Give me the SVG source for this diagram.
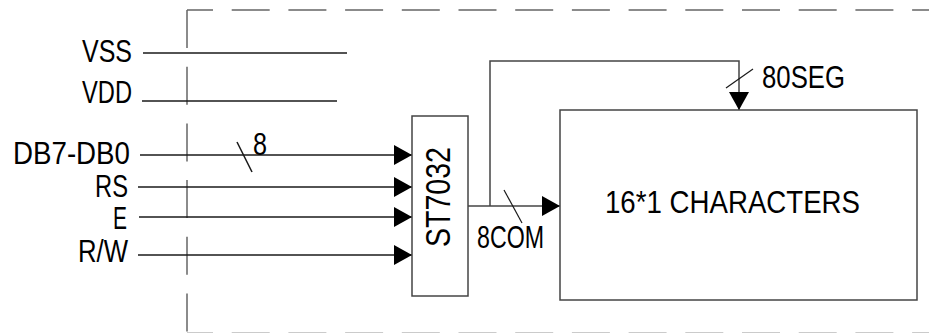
<svg xmlns="http://www.w3.org/2000/svg" width="929" height="333" viewBox="0 0 929 333">
<style>
.t{font-family:"Liberation Sans","DejaVu Sans",Arial,sans-serif;font-size:31px;fill:#000}
.ln{stroke:#1a1a1a;stroke-width:1.5;fill:none}
.box{stroke:#444;stroke-width:1.5;fill:#fff}
.dash{stroke:#666;stroke-width:1.5;fill:none;stroke-dasharray:38 18.7}
</style>
<defs>
<marker id="arr" markerUnits="userSpaceOnUse" markerWidth="18" markerHeight="20" refX="18" refY="10" orient="auto">
<path d="M0,0 L18,10 L0,20 z" fill="#000"/>
</marker>
</defs>
<rect width="929" height="333" fill="#fff"/>
<g id="border">
<line class="dash" x1="187" y1="10" x2="187" y2="340"/>
<line class="dash" x1="187" y1="10" x2="929" y2="10" style="stroke-dashoffset:12"/>
<line class="dash" x1="187" y1="333" x2="929" y2="333" style="stroke-dashoffset:12;stroke:#bbb"/>
</g>
<g id="connectors">
<line class="ln" x1="143" y1="53" x2="347" y2="53"/>
<line class="ln" x1="142" y1="101" x2="337" y2="101"/>
<line class="ln" x1="140" y1="155" x2="412" y2="155" marker-end="url(#arr)"/>
<line class="ln" x1="138" y1="187" x2="412" y2="187" marker-end="url(#arr)"/>
<line class="ln" x1="139" y1="217" x2="412" y2="217" marker-end="url(#arr)"/>
<line class="ln" x1="138" y1="255" x2="412" y2="255" marker-end="url(#arr)"/>
<line class="ln" x1="237" y1="142" x2="252" y2="172"/>
<line class="ln" x1="468" y1="206" x2="560" y2="206" marker-end="url(#arr)" style="stroke:#444"/>
<path class="ln" d="M490,206 V61 H739 V110" marker-end="url(#arr)" style="stroke:#444"/>
<line class="ln" x1="504" y1="190" x2="522" y2="223" style="stroke-width:1.2"/>
<line class="ln" x1="726" y1="88" x2="753" y2="69" style="stroke-width:1.2"/>
</g>
<g id="labels">
<text class="t" x="82" y="62" textLength="50" lengthAdjust="spacingAndGlyphs">VSS</text>
<text class="t" x="82" y="103" textLength="50" lengthAdjust="spacingAndGlyphs">VDD</text>
<text class="t" x="13" y="164" textLength="117" lengthAdjust="spacingAndGlyphs">DB7-DB0</text>
<text class="t" x="95" y="197" textLength="33" lengthAdjust="spacingAndGlyphs">RS</text>
<text class="t" x="113" y="229" textLength="14" lengthAdjust="spacingAndGlyphs">E</text>
<text class="t" x="78" y="262" textLength="50" lengthAdjust="spacingAndGlyphs">R/W</text>
<text class="t" x="253" y="155" textLength="14" lengthAdjust="spacingAndGlyphs">8</text>
<text class="t" x="477" y="248" textLength="67" lengthAdjust="spacingAndGlyphs">8COM</text>
<text class="t" x="762" y="88" textLength="83" lengthAdjust="spacingAndGlyphs">80SEG</text>
</g>
<g id="st7032">
<rect class="box" x="412" y="116" width="56" height="180"/>
<text class="t" transform="translate(450,247) rotate(-90)" x="0" y="0" style="font-size:35px" textLength="100" lengthAdjust="spacingAndGlyphs">ST7032</text>
</g>
<g id="characters">
<rect class="box" x="560" y="110" width="357" height="190"/>
<text class="t" x="605" y="213" textLength="255" lengthAdjust="spacingAndGlyphs">16*1 CHARACTERS</text>
</g>
</svg>
